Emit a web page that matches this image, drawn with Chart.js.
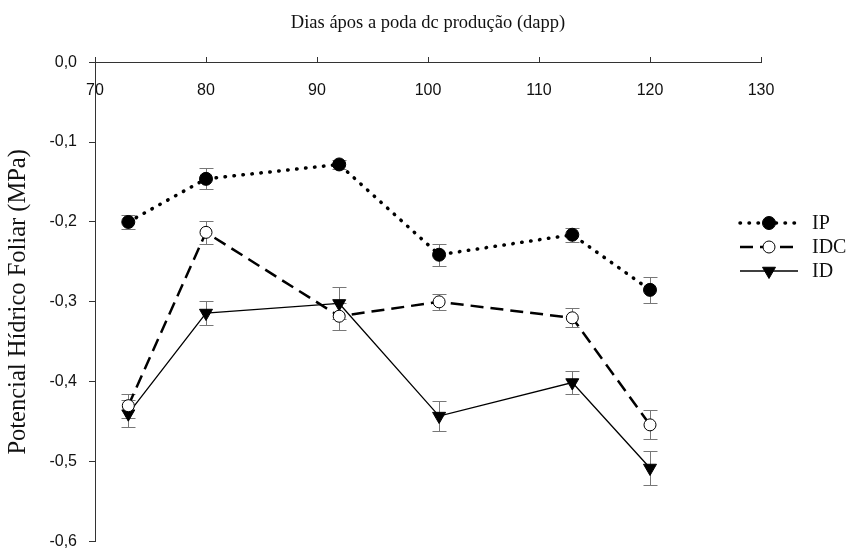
<!DOCTYPE html>
<html>

<head>
	<meta charset="UTF-8">
	<title>Potencial hídrico foliar</title>
	<script src="https://cdn.jsdelivr.net/npm/chart.js"></script>
	<style>
		body {
			margin: 0;
			padding: 0;
			background: #ffffff;
		}

		#chartContainer {
			width: 851px;
			height: 550px;
		}
	</style>
</head>

<body>
	<div id="chartContainer">
		<canvas id="myChart" width="851" height="550"></canvas>
	</div>
	<script>
		// Days after pruning (x values)
		const days = [73, 80, 92, 101, 113, 120];

		// Series values (MPa) and their error bars
		const ipValues = [-0.200, -0.146, -0.128, -0.241, -0.216, -0.285];
		const ipErrors = [0.009, 0.013, 0.006, 0.014, 0.009, 0.016];

		const idcValues = [-0.430, -0.213, -0.318, -0.300, -0.320, -0.454];
		const idcErrors = [0.015, 0.014, 0.017, 0.010, 0.012, 0.018];

		const idValues = [-0.440, -0.314, -0.302, -0.443, -0.401, -0.508];
		const idErrors = [0.017, 0.015, 0.020, 0.019, 0.014, 0.021];

		const seriesNames = ['IP', 'IDC', 'ID'];

		// Tick labels
		const xTickValues = [70, 80, 90, 100, 110, 120, 130];
		const yTickValues = [-0.6, -0.5, -0.4, -0.3, -0.2, -0.1, 0];
		const yTickLabels = ['-0,6', '-0,5', '-0,4', '-0,3', '-0,2', '-0,1', '0,0'];

		const toPoints = (vals) => days.map((d, i) => ({x: d, y: vals[i]}));

		// error bars, drawn under the markers
		const errorBarPlugin = {
			id: 'errorBars',
			beforeDatasetsDraw: (chart) => {
				const {ctx} = chart;
				const xs = chart.scales.x;
				const ys = chart.scales.y;
				ctx.save();
				ctx.strokeStyle = '#777';
				ctx.lineWidth = 1;
				chart.data.datasets.forEach(ds => {
					ds.data.forEach((p, i) => {
						const e = ds.errorBars[i];
						const px = Math.round(xs.getPixelForValue(p.x)) + 0.5;
						const top = Math.round(ys.getPixelForValue(p.y + e)) + 0.5;
						const bot = Math.round(ys.getPixelForValue(p.y - e)) + 0.5;
						ctx.beginPath();
						ctx.moveTo(px, top);
						ctx.lineTo(px, bot);
						ctx.moveTo(px - 7, top);
						ctx.lineTo(px + 7, top);
						ctx.moveTo(px - 7, bot);
						ctx.lineTo(px + 7, bot);
						ctx.stroke();
					});
				});
				ctx.restore();
			}
		};

		// legend sits inside the plot on the right
		const legendPlugin = {
			id: 'insideLegend',
			afterDraw: (chart) => {
				const {ctx} = chart;
				const x0 = 740, x1 = 798, y0 = 223, dy = 24;
				ctx.save();
				chart.data.datasets.forEach((ds, i) => {
					const y = y0 + i * dy;
					ctx.beginPath();
					ctx.strokeStyle = ds.borderColor;
					ctx.lineWidth = ds.borderWidth;
					ctx.lineCap = ds.borderCapStyle || 'butt';
					ctx.setLineDash(ds.borderDash || []);
					ctx.moveTo(x0, y);
					ctx.lineTo(x1, y);
					ctx.stroke();
					ctx.setLineDash([]);
					ctx.lineCap = 'butt';
					ctx.fillStyle = ds.pointBackgroundColor;
					ctx.strokeStyle = ds.pointBorderColor;
					ctx.lineWidth = ds.pointBorderWidth;
					Chart.helpers.drawPoint(ctx, {
						pointStyle: ds.pointStyle,
						radius: ds.pointRadius,
						rotation: ds.pointRotation || 0,
						borderWidth: ds.pointBorderWidth
					}, (x0 + x1) / 2, y);
					ctx.fillStyle = '#111';
					ctx.font = '20px "Liberation Serif", "Times New Roman", serif';
					ctx.textBaseline = 'middle';
					ctx.textAlign = 'left';
					ctx.fillText(seriesNames[i], 812, y + 1);
				});
				ctx.restore();
			}
		};

		const ctx = document.getElementById('myChart').getContext('2d');
		const chart = new Chart(ctx, {
			type: 'scatter',
			data: {
				datasets: [{
					label: seriesNames[0],
					data: toPoints(ipValues),
					errorBars: ipErrors,
					showLine: true,
					borderColor: '#000',
					borderWidth: 3.5,
					borderDash: [0.5, 8.5],
					borderCapStyle: 'round',
					pointStyle: 'circle',
					pointRadius: 6.5,
					pointBackgroundColor: '#000',
					pointBorderColor: '#000',
					pointBorderWidth: 1
				}, {
					label: seriesNames[1],
					data: toPoints(idcValues),
					errorBars: idcErrors,
					showLine: true,
					borderColor: '#000',
					borderWidth: 2.5,
					borderDash: [13, 7],
					pointStyle: 'circle',
					pointRadius: 6,
					pointBackgroundColor: '#fff',
					pointBorderColor: '#000',
					pointBorderWidth: 1
				}, {
					label: seriesNames[2],
					data: toPoints(idValues),
					errorBars: idErrors,
					showLine: true,
					borderColor: '#000',
					borderWidth: 1.3,
					pointStyle: 'triangle',
					pointRotation: 180,
					pointRadius: 7.5,
					pointBackgroundColor: '#000',
					pointBorderColor: '#000',
					pointBorderWidth: 1
				}]
			},
			options: {
				responsive: false,
				animation: false,
				events: [],
				layout: {
					padding: {
						left: 0,
						right: 90,
						top: 0,
						bottom: 8
					}
				},
				scales: {
					x: {
						type: 'linear',
						position: {y: 0},
						min: 70,
						max: 130,
						afterBuildTicks: (scale) => {
							scale.ticks = xTickValues.map(v => ({value: v}));
						},
						ticks: {
							color: '#111',
							padding: 25,
							font: {
								family: '"Liberation Sans", Arial, sans-serif',
								size: 16
							}
						},
						grid: {
							drawOnChartArea: false,
							drawTicks: true,
							tickLength: -6,
							color: '#333'
						},
						border: {
							display: true,
							color: '#333',
							width: 1
						}
					},
					y: {
						type: 'linear',
						position: 'left',
						min: -0.6,
						max: 0,
						afterBuildTicks: (scale) => {
							scale.ticks = yTickValues.map(v => ({value: v}));
						},
						afterFit: (scale) => {
							scale.width = 95;
							scale.paddingBottom = 0;
						},
						ticks: {
							color: '#111',
							padding: 12,
							font: {
								family: '"Liberation Sans", Arial, sans-serif',
								size: 16
							},
							callback: (value, index) => yTickLabels[index]
						},
						grid: {
							drawOnChartArea: false,
							drawTicks: true,
							tickLength: 6,
							color: '#333'
						},
						border: {
							display: true,
							color: '#333',
							width: 1
						},
						title: {
							display: true,
							text: 'Potencial Hídrico Foliar (MPa)',
							color: '#111',
							padding: {top: 4, bottom: 0},
							font: {
								family: '"Liberation Serif", "Times New Roman", serif',
								size: 24.5
							}
						}
					}
				},
				plugins: {
					legend: {
						display: false
					},
					tooltip: {
						enabled: false
					},
					title: {
						display: true,
						fullSize: false,
						text: 'Dias ápos a poda dc produção (dapp)',
						color: '#111',
						padding: {top: 12, bottom: 28},
						font: {
							family: '"Liberation Serif", "Times New Roman", serif',
							size: 18.5,
							weight: 'normal'
						}
					}
				}
			},
			plugins: [errorBarPlugin, legendPlugin]
		});
	</script>
</body>

</html>
